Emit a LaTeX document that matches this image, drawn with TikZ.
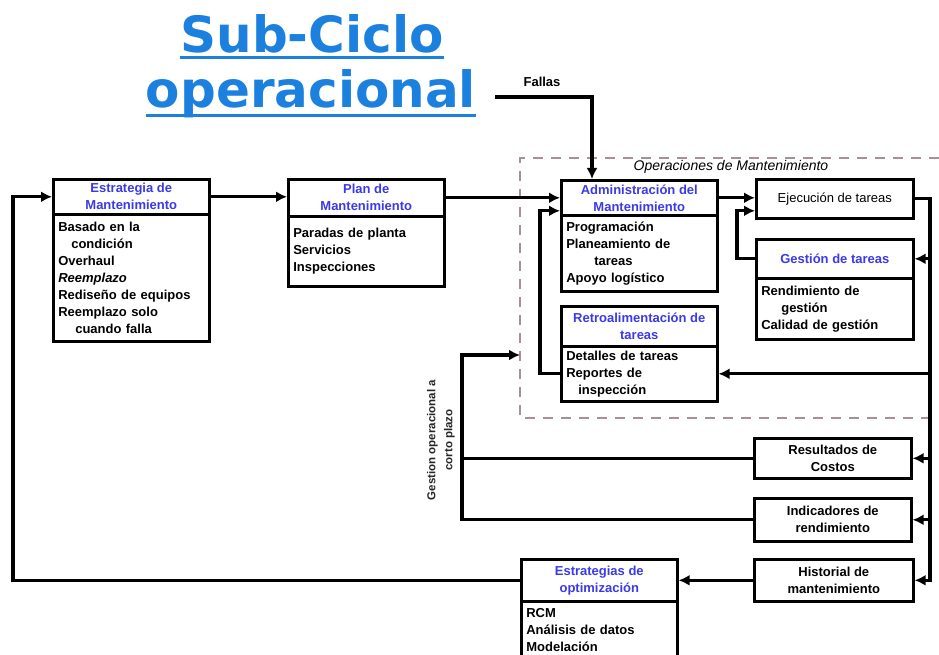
\documentclass[tikz,border=0pt]{standalone}
\usepackage{fontspec}
\setmainfont{Liberation Sans}
\newfontfamily\titlefont{DejaVu Sans}
\usetikzlibrary{arrows.meta,calc}
\definecolor{hdrblue}{RGB}{58,58,232}
\definecolor{titleblue}{RGB}{28,128,222}
\definecolor{zonegray}{RGB}{165,145,150}
\begin{document}
\begin{tikzpicture}[x=1pt,y=-1pt,
  box/.style={draw=black, line width=2.6pt, fill=white, inner sep=0pt, anchor=north west, align=center},
  hdr/.style={box, font=\fontsize{13}{17}\selectfont\bfseries, text=hdrblue},
  lst/.style={box, font=\fontsize{13}{17}\selectfont\bfseries, align=left, inner xsep=5pt},
  plainbox/.style={box, font=\fontsize{13}{17}\selectfont\bfseries},
  conn/.style={line width=3.2pt, -{Latex[length=11pt,width=11pt]}},
  wire/.style={line width=3.2pt},
  zone/.style={draw=zonegray, line width=2.6pt, dash pattern=on 10pt off 8pt},
  titletxt/.style={font=\titlefont\fontsize{50}{50}\selectfont\bfseries, text=titleblue, anchor=base, inner sep=0pt}
]
\useasboundingbox (0,0) rectangle (939,655);

% title
\node[titletxt] (t1) at (312,53) {Sub-Ciclo};
\node[titletxt] (t2) at (311,108) {operacional};
\draw[titleblue, line width=3pt] ([yshift=-5pt]t1.base west) -- ([yshift=-5pt]t1.base east);
\draw[titleblue, line width=3pt] ([yshift=-8pt]t2.base west) -- ([yshift=-8pt]t2.base east);

% maintenance operations zone
\draw[zone] (939,158) -- (520,158) -- (520,418) -- (939,418);
\node[font=\fontsize{14}{16}\selectfont\itshape] (opl) at (731,167) {Operaciones de Mantenimiento};

% boxes
\node[hdr, minimum width=156pt, minimum height=35pt] (estH) at (52,178) {Estrategia de\\Mantenimiento};
\node[lst, minimum width=156pt, minimum height=127pt, text width=146pt] (estB) at (52,213)
  {Basado en la\\\hspace*{13pt}condición\\Overhaul\\\textit{Reemplazo}\\Rediseño de equipos\\Reemplazo solo\\\hspace*{17pt}cuando falla};

\node[hdr, minimum width=156pt, minimum height=37pt] (planH) at (287,178) {Plan de\\Mantenimiento};
\node[lst, minimum width=156pt, minimum height=70pt, text width=146pt] (planB) at (287,215)
  {Paradas de planta\\Servicios\\Inspecciones};

\node[hdr, minimum width=156pt, minimum height=35pt] (admH) at (560,179) {Administración del\\Mantenimiento};
\node[lst, minimum width=156pt, minimum height=76pt, text width=146pt] (admB) at (560,214)
  {Programación\\Planeamiento de\\\hspace*{28pt}tareas\\Apoyo logístico};

\node[box, font=\fontsize{13}{17}\selectfont, minimum width=157pt, minimum height=39pt] (ejec) at (755,178) {Ejecución de tareas};

\node[hdr, minimum width=157pt, minimum height=39pt] (gestH) at (755,238) {Gestión de tareas};
\node[lst, minimum width=157pt, minimum height=61pt, text width=147pt] (gestB) at (755,277)
  {Rendimiento de\\\hspace*{20pt}gestión\\Calidad de gestión};

\node[hdr, minimum width=156pt, minimum height=40pt] (retH) at (560,305) {Retroalimentación de\\tareas};
\node[lst, minimum width=156pt, minimum height=55pt, text width=146pt] (retB) at (560,345)
  {Detalles de tareas\\Reportes de\\\hspace*{12pt}inspección};

\node[plainbox, minimum width=157pt, minimum height=40pt] (res) at (753,437) {Resultados de\\Costos};
\node[plainbox, minimum width=157pt, minimum height=43pt] (ind) at (753,497) {Indicadores de\\rendimiento};
\node[plainbox, minimum width=159pt, minimum height=42pt] (hist) at (753,558) {Historial de\\mantenimiento};

\node[hdr, minimum width=156pt, minimum height=42pt] (optH) at (520,558) {Estrategias de\\optimización};
\node[lst, minimum width=156pt, minimum height=58pt, text width=146pt] (optB) at (520,600)
  {RCM\\Análisis de datos\\Modelación};

% labels
\node[font=\fontsize{13}{15}\selectfont\bfseries] (fallas) at (542,82) {Fallas};
\node[rotate=90, font=\fontsize{11.5}{17}\selectfont\bfseries, text=black!85, align=center] (gop) at (441,440)
  {Gestion operacional a\\corto plazo};

% helper points
\coordinate (rbus) at (930,0);
\coordinate (lbus) at (13,0);
\coordinate (gback) at (737,0);
\coordinate (rback) at (540,0);
\coordinate (gtop) at (462,355);
\coordinate (gtip) at (520,355);
\coordinate (fin) at (495,97);
\coordinate (fdrop) at (592,97);

% main chain
\draw[conn] (estH.east) -- (estH.east -| planH.west);
\draw[conn] (planH.east) -- (planH.east -| admH.west);
\draw[conn] (admH.east) -- (admH.east -| ejec.west);
\draw[conn] (fin) -- (fdrop) -- (fdrop |- admH.north);

% right-hand distribution bus
\draw[conn] (ejec.east) -- (ejec.east -| rbus) |- (hist.east);
\draw[conn] (gestH.east -| rbus) -- (gestH.east);
\draw[conn] (retB.east -| rbus) -- (retB.east);
\draw[conn] (res.east -| rbus) -- (res.east);
\draw[conn] (ind.east -| rbus) -- (ind.east);

% feedback loops
\draw[conn] (gestH.west) -- (gestH.west -| gback) |- ([yshift=-12pt]ejec.west);
\draw[conn] (retB.west) -- (retB.west -| rback) |- ([yshift=-13pt]admH.west);

% short-term operational management
\draw[conn] (ind.west) -| (gtop) -- (gtip);
\draw[wire] (res.west) -- (res.west -| gtop);

% optimisation loop
\draw[conn] (hist.west) -- (hist.west -| optH.east);
\draw[conn] (optH.west) -- (optH.west -| lbus) |- (estH.west);
\end{tikzpicture}
\end{document}
